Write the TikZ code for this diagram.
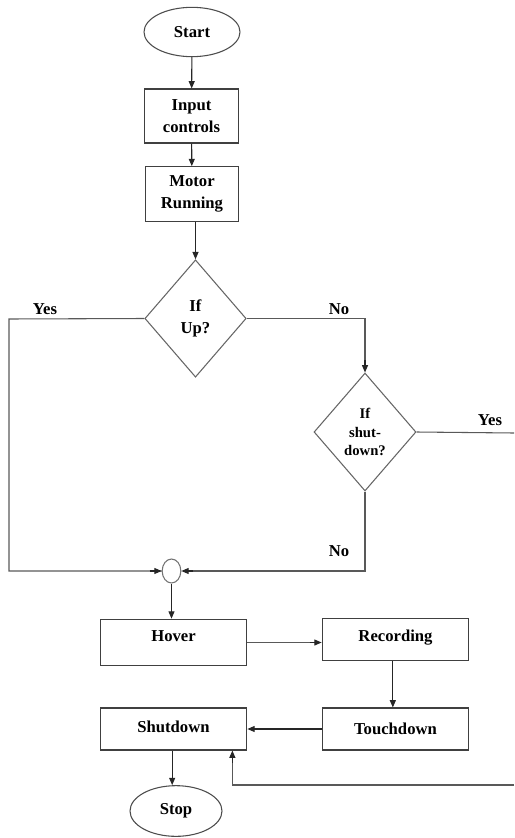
\documentclass[tikz,border=0pt]{standalone}
\usepackage{fontspec}
\setmainfont{Liberation Serif}
\usetikzlibrary{arrows.meta}
\usetikzlibrary{shapes.geometric}

\begin{document}
\begin{tikzpicture}[x=0.75pt, y=-0.75pt, >={Triangle[length=5.5pt,width=4.5pt]},
    line width=0.8pt, font=\fontsize{12.5}{17}\selectfont\bfseries,
    term/.style = {draw=black!70, ellipse, inner sep=0pt},
    box/.style = {draw=black!75, rectangle, inner sep=0pt, align=center},
    test/.style = {draw=black!60, diamond, inner sep=0pt, align=center},
    high/.style = {text depth=#1},
    wire/.style = {draw=black!65},
    go/.style = {draw=black!85, ->}]
    \useasboundingbox (0,0) rectangle (514,838);
    % Nodes

    \node[term, minimum width=72pt, minimum height=37pt] (start) at (192, 32) {Start};
    \node[box, minimum width=70pt, minimum height=40.5pt] (input) at (191.5, 116) {Input\\controls};
    \node[box, minimum width=70pt, minimum height=41pt] (motor) at (192, 194) {Motor\\Running};

    \node[test, minimum width=76pt, minimum height=88pt] (up) at (195.5, 318.5) {If\\Up?};
    \node[test, minimum width=76.5pt, minimum height=88.5pt, font=\fontsize{11}{14}\selectfont\bfseries] (shut) at (365, 432) {If\\shut-\\down?};

    \node[term, draw=black!55, minimum width=14pt, minimum height=18pt] (join) at (171.5, 571) {};

    \node[box, high=9pt, minimum width=110pt, minimum height=35pt] (hover) at (173.5, 642.5) {Hover};
    \node[box, high=5pt, minimum width=110pt, minimum height=31pt] (rec) at (395.5, 639.5) {Recording};
    \node[box, minimum width=110pt, minimum height=31.5pt] (touch) at (395.5, 729) {Touchdown};
    \node[box, high=3pt, minimum width=110pt, minimum height=31.5pt] (sdown) at (173.5, 729) {Shutdown};
    \node[term, minimum width=69pt, minimum height=38pt] (stop) at (176, 811) {Stop};

    \coordinate (yesL) at (9, 319);
    \coordinate (yesR) at (514, 433);
    \coordinate (back) at (514, 785);
    % Edges
    \draw[go] (start) -- (input);
    \draw[go] (input) -- (motor);
    \draw[go] (up.north |- motor.south) -- (up.north);

    \draw[wire] (up.west) -- (yesL) |- (join.west);
    \draw[go] ([xshift=-9pt]join.west) -- (join.west);
    \draw[wire] (up.east) -- (shut.north |- up.east) -- ([yshift=9pt]shut.north);
    \draw[go] ([yshift=9pt]shut.north) -- (shut.north);
    \draw[wire] (shut.east) -- (yesR);
    \draw[wire] (shut.south) |- ([xshift=9pt]join.east);
    \draw[go] ([xshift=9pt]join.east) -- (join.east);

    \node (l1) at (45, 309) {Yes};
    \node (l2) at (339, 309) {No};
    \node (l3) at (490, 420) {Yes};
    \node (l4) at (339, 551) {No};

    \draw[go] (join.south) -- (join.south |- hover.north);
    \draw[wire] (hover.east) -- ([xshift=-9pt]hover.east -| rec.west);
    \draw[go] ([xshift=-9pt]hover.east -| rec.west) -- (hover.east -| rec.west);
    \draw[go] ([xshift=-2pt]rec.south) -- ([xshift=-2pt]touch.north);
    \draw[go] (touch.west) -- (sdown.east);
    \draw[go] ([xshift=-1pt]sdown.south) -- ([xshift=-1pt]sdown.south |- stop.north);
    \draw[wire] (back) -| ([xshift=-11.25pt, yshift=-9pt]sdown.south east);
    \draw[go] ([xshift=-11.25pt, yshift=-9pt]sdown.south east) -- ([xshift=-11.25pt]sdown.south east);

\end{tikzpicture}
\end{document}
